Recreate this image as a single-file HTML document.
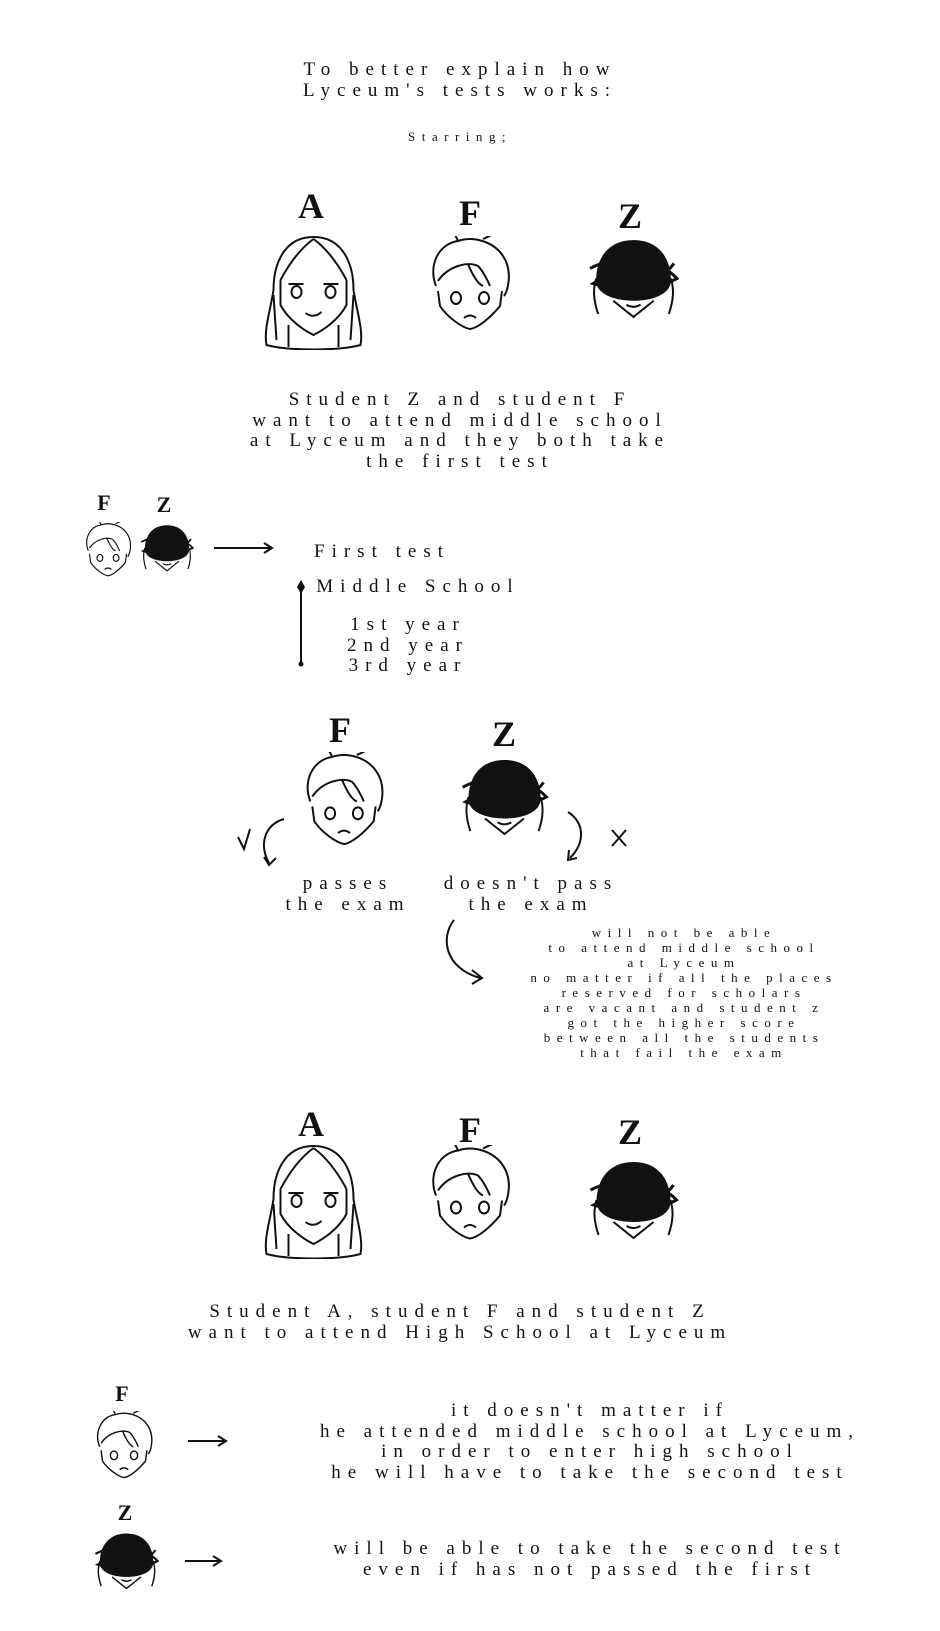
<!DOCTYPE html>
<html><head><meta charset="utf-8"><style>
html,body{margin:0;padding:0;background:#fff}
body{width:940px;height:1631px;position:relative;overflow:hidden;font-family:"Liberation Serif",serif;color:#111}
.t{position:absolute;transform:translateX(-50%);white-space:nowrap;text-align:center;font-size:19px;letter-spacing:7px;line-height:20.5px}
.s{position:absolute;transform:translateX(-50%);white-space:nowrap;text-align:center;font-size:13px;letter-spacing:6.5px;line-height:15px}
.l{position:absolute;transform:translateX(-50%);font-weight:bold;font-size:36px;line-height:36px}
.ls{position:absolute;transform:translateX(-50%);font-weight:bold;font-size:22px;line-height:22px}
svg.f{position:absolute;overflow:visible}
</style></head><body>
<svg width="0" height="0" style="position:absolute">
<defs>
<symbol id="A" viewBox="0 0 110 115">
<g fill="none" stroke="#111" stroke-width="2">
<path d="M55 2 C25 2 15 30 15 55 C12 75 5 95 8 110 C30 116 80 116 102 110 C105 95 98 75 95 55 C95 30 85 2 55 2Z"/>
<path d="M55 4 C40 15 30 30 22 45 M55 4 C70 15 80 30 88 45"/>
<path d="M22 45 L22 70 C30 85 45 95 55 100 C65 95 80 85 88 70 L88 45"/>
<path d="M15 60 L18 105 M95 60 L92 105 M30 90 L30 112 M80 90 L80 112"/>
<ellipse cx="38" cy="57" rx="5" ry="6"/><ellipse cx="72" cy="57" rx="5" ry="6"/>
<path d="M30 49 L45 49 M65 49 L80 49 M47 78 Q55 84 63 77"/>
</g></symbol>
<symbol id="F" viewBox="0 0 84 95">
<g fill="none" stroke="#111" stroke-width="2">
<path d="M8 50 C0 30 10 8 30 5 C45 0 65 5 75 20 C85 35 80 55 76 60"/>
<path d="M30 5 C28 0 26 -2 25 -5 M55 3 C62 0 66 -3 68 -1"/>
<path d="M10 45 C20 30 40 25 50 30 C55 35 60 45 62 50 M40 28 C45 40 50 48 55 50"/>
<path d="M10 55 L12 70 C20 82 35 92 42 93 C50 92 62 82 72 70 L74 55"/>
<ellipse cx="28" cy="62" rx="5" ry="6"/><ellipse cx="56" cy="62" rx="5" ry="6"/>
<path d="M36 82 Q42 77 48 82"/>
</g></symbol>
<symbol id="Z" viewBox="0 0 90 80">
<g fill="none" stroke="#111" stroke-width="2">
<path d="M10 75 C5 60 5 50 8 40 M80 75 C85 60 85 50 82 40 M25 62 L45 78 L65 62 M38 66 Q45 70 52 66"/>
</g>
<path d="M45 2 C20 2 8 20 8 42 C8 55 25 62 45 62 C65 62 82 55 82 42 C82 20 70 2 45 2Z" fill="#111"/>
<g fill="none" stroke="#111" stroke-width="3"><path d="M2 30 C30 15 70 20 88 40 C60 55 20 50 5 45 C30 30 60 60 85 25"/></g>
</symbol>
</defs></svg>

<div class="t" style="left:460px;top:60px">To better explain how<br>Lyceum's tests works:</div>
<div class="s" style="left:460px;top:129px">Starring;</div>

<div class="l" style="left:311px;top:188px">A</div>
<div class="l" style="left:470px;top:195px">F</div>
<div class="l" style="left:630px;top:198px">Z</div>
<svg class="f" style="left:256px;top:235px" width="115" height="115"><use href="#A"/></svg>
<svg class="f" style="left:428px;top:236px" width="84" height="95"><use href="#F"/></svg>
<svg class="f" style="left:588px;top:238px" width="91" height="81"><use href="#Z"/></svg>

<div class="t" style="left:460px;top:390px">Student Z and student F<br>want to attend middle school<br>at Lyceum and they both take<br>the first test</div>

<div class="ls" style="left:104px;top:492px">F</div>
<div class="ls" style="left:164px;top:494px">Z</div>
<svg class="f" style="left:82px;top:522px" width="52" height="55"><use href="#F"/></svg>
<svg class="f" style="left:140px;top:524px" width="54" height="48"><use href="#Z"/></svg>
<svg class="f" style="left:212px;top:540px" width="64" height="16"><path d="M2 8 H60 M52 3 L60 8 L52 13" fill="none" stroke="#111" stroke-width="2"/></svg>
<div class="t" style="left:382px;top:542px">First test</div>
<svg class="f" style="left:292px;top:578px" width="18" height="92"><path d="M9 2 L13 9 L9 16 L5 9Z" fill="#111"/><path d="M9 9 V86" stroke="#111" stroke-width="2"/><circle cx="9" cy="86" r="2.5" fill="#111"/></svg>
<div class="t" style="left:418px;top:577px">Middle School</div>
<div class="t" style="left:408px;top:615px">1st year<br>2nd year<br>3rd year</div>

<div class="l" style="left:340px;top:712px">F</div>
<div class="l" style="left:504px;top:716px">Z</div>
<svg class="f" style="left:301px;top:752px" width="86" height="94"><use href="#F"/></svg>
<svg class="f" style="left:460px;top:758px" width="89" height="78"><use href="#Z"/></svg>
<svg class="f" style="left:234px;top:815px" width="70" height="60"><path d="M4 22 L10 34 L16 14" fill="none" stroke="#111" stroke-width="2"/><path d="M50 4 C30 10 25 30 35 48 M30 42 L35 50 L42 43" fill="none" stroke="#111" stroke-width="2"/></svg>
<svg class="f" style="left:560px;top:808px" width="90" height="60"><path d="M8 4 C25 15 25 35 10 50 M9 42 L8 52 L17 50" fill="none" stroke="#111" stroke-width="2"/><path d="M52 22 L66 38 M66 22 L52 38" stroke="#111" stroke-width="2"/></svg>
<div class="t" style="left:348px;top:874px">passes<br>the exam</div>
<div class="t" style="left:531px;top:874px">doesn't pass<br>the exam</div>
<svg class="f" style="left:440px;top:918px" width="50" height="68"><path d="M14 2 C0 20 5 50 40 60 M32 52 L42 60 L32 66" fill="none" stroke="#111" stroke-width="2"/></svg>
<div class="s" style="left:684px;top:925px">will not be able<br>to attend middle school<br>at Lyceum<br>no matter if all the places<br>reserved for scholars<br>are vacant and student z<br>got the higher score<br>between all the students<br>that fail the exam</div>

<div class="l" style="left:311px;top:1106px">A</div>
<div class="l" style="left:470px;top:1112px">F</div>
<div class="l" style="left:630px;top:1114px">Z</div>
<svg class="f" style="left:256px;top:1144px" width="115" height="115"><use href="#A"/></svg>
<svg class="f" style="left:428px;top:1145px" width="84" height="96"><use href="#F"/></svg>
<svg class="f" style="left:588px;top:1160px" width="91" height="80"><use href="#Z"/></svg>

<div class="t" style="left:460px;top:1302px">Student A, student F and student Z<br>want to attend High School at Lyceum</div>

<div class="ls" style="left:122px;top:1383px">F</div>
<svg class="f" style="left:92px;top:1411px" width="64" height="68"><use href="#F"/></svg>
<svg class="f" style="left:186px;top:1433px" width="44" height="16"><path d="M2 8 H40 M32 3 L40 8 L32 13" fill="none" stroke="#111" stroke-width="2"/></svg>
<div class="t" style="left:590px;top:1401px">it doesn't matter if<br>he attended middle school at Lyceum,<br>in order to enter high school<br>he will have to take the second test</div>

<div class="ls" style="left:125px;top:1502px">Z</div>
<svg class="f" style="left:94px;top:1531px" width="65" height="60"><use href="#Z"/></svg>
<svg class="f" style="left:183px;top:1553px" width="42" height="16"><path d="M2 8 H38 M30 3 L38 8 L30 13" fill="none" stroke="#111" stroke-width="2"/></svg>
<div class="t" style="left:590px;top:1539px">will be able to take the second test<br>even if has not passed the first</div>
</body></html>
